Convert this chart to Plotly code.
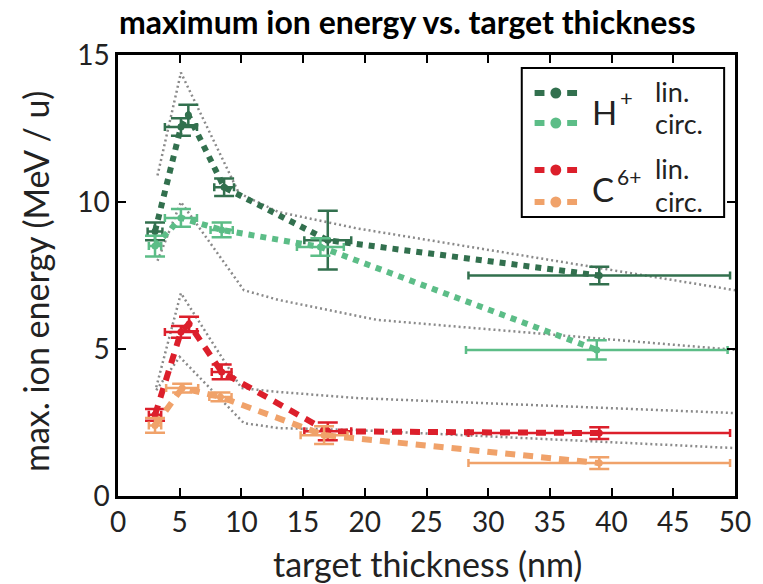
import plotly.graph_objects as go

# ---------------- data ----------------
thick_H_lin = [3.0, 5.1, 5.7, 8.6, 17.0, 39.0]
E_H_lin = [9.0, 12.55, 12.96, 10.5, 8.7, 7.5]
dx_H_lin = [0.6, 1.3, 0.0, 0.8, 1.9, 10.6]
dy_H_lin = [0.3, 0.3, 0.35, 0.3, 1.0, 0.3]

thick_H_circ = [3.0, 5.1, 8.4, 16.4, 38.8]
E_H_circ = [8.5, 9.46, 9.05, 8.47, 4.97]
dx_H_circ = [0.5, 1.3, 0.9, 1.9, 10.6]
dy_H_circ = [0.35, 0.3, 0.25, 0.3, 0.33]

thick_C_lin = [3.0, 5.1, 5.76, 8.4, 17.0, 39.0]
E_C_lin = [2.76, 5.58, 5.85, 4.22, 2.2, 2.14]
dx_C_lin = [0.5, 1.3, 0.0, 0.8, 1.9, 10.6]
dy_C_lin = [0.2, 0.2, 0.25, 0.25, 0.3, 0.2]

thick_C_circ = [3.0, 5.2, 8.3, 16.7, 39.0]
E_C_circ = [2.4, 3.67, 3.37, 2.07, 1.12]
dx_C_circ = [0.5, 1.3, 0.9, 1.9, 10.6]
dy_C_circ = [0.25, 0.15, 0.15, 0.3, 0.2]

# simulation envelopes (grey dotted)
env_H_up_x = [3.2, 5.1, 9.8, 13.0, 19.4, 50.0]
env_H_up_y = [10.9, 14.4, 10.3, 9.66, 9.1, 7.0]
env_H_lo_x = [3.2, 5.1, 10.2, 13.0, 21.0, 50.0]
env_H_lo_y = [8.0, 10.0, 7.0, 6.67, 5.99, 4.97]
env_C_up_x = [3.1, 5.1, 10.0, 13.0, 19.4, 50.0]
env_C_up_y = [3.7, 6.9, 3.67, 3.54, 3.33, 2.82]
env_C_lo_x = [3.1, 5.0, 10.2, 13.0, 19.4, 50.0]
env_C_lo_y = [3.6, 4.73, 2.48, 2.31, 2.24, 1.63]

x_ticks = [0, 5, 10, 15, 20, 25, 30, 35, 40, 45, 50]
y_ticks = [0, 5, 10, 15]

# ---------------- style ----------------
C_HLIN = "#32704e"
C_HCIRC = "#5cbd87"
C_CLIN = "#dc1f2b"
C_CCIRC = "#f0a26a"
C_ENV = "#8a8a8a"
FONT = "Lato"

W, H = 763, 584
L, R, T, B = 118, 20, 55, 88
PW, PH = W - L - R, H - T - B


def px(x):
    return (x - L) / PW


def py(y):
    return (H - B - y) / PH


fig = go.Figure()

for ex, ey in [(env_H_up_x, env_H_up_y), (env_H_lo_x, env_H_lo_y),
               (env_C_up_x, env_C_up_y), (env_C_lo_x, env_C_lo_y)]:
    fig.add_trace(go.Scatter(x=ex, y=ey, mode="lines", showlegend=False,
                             line=dict(color=C_ENV, width=2.5, dash="2px,3px"),
                             hoverinfo="skip"))

series = [
    (thick_H_lin, E_H_lin, dx_H_lin, dy_H_lin, C_HLIN, "dot", 6),
    (thick_H_circ, E_H_circ, dx_H_circ, dy_H_circ, C_HCIRC, "dot", 6),
    (thick_C_lin, E_C_lin, dx_C_lin, dy_C_lin, C_CLIN, "10px,8px", 6),
    (thick_C_circ, E_C_circ, dx_C_circ, dy_C_circ, C_CCIRC, "10px,8px", 6),
]
for xs, ys, dxs, dys, col, dash, lw in series:
    fig.add_trace(go.Scatter(
        x=xs, y=ys, mode="lines+markers", showlegend=False,
        line=dict(color=col, width=lw, dash=dash),
        marker=dict(color=col, size=7, symbol="circle"),
        error_x=dict(type="data", array=dxs, color=col, thickness=2.5, width=4),
        error_y=dict(type="data", array=dys, color=col, thickness=2.5, width=10),
    ))

axis_common = dict(showline=True, linecolor="black", linewidth=2.5, mirror="ticks",
                   ticks="inside", ticklen=8, tickwidth=2, tickcolor="black",
                   showgrid=False, zeroline=False,
                   tickfont=dict(family=FONT, size=28, color="#222"))
fig.update_xaxes(range=[0, 50], tickvals=x_ticks, **axis_common)
fig.update_yaxes(range=[0, 15], tickvals=y_ticks, **axis_common)

shapes = []
annotations = []
# legend box
shapes.append(dict(type="rect", xref="paper", yref="paper",
                   x0=px(527), x1=px(732), y0=py(217), y1=py(68),
                   line=dict(color="black", width=2), fillcolor="white", layer="above"))
leg_rows = [(93, C_HLIN), (123, C_HCIRC), (170, C_CLIN), (202, C_CCIRC)]
for yy, col in leg_rows:
    shapes.append(dict(type="line", xref="paper", yref="paper",
                       x0=px(540), x1=px(550), y0=py(yy), y1=py(yy),
                       line=dict(color=col, width=6), layer="above"))
    shapes.append(dict(type="line", xref="paper", yref="paper",
                       x0=px(573), x1=px(583), y0=py(yy), y1=py(yy),
                       line=dict(color=col, width=6), layer="above"))
    shapes.append(dict(type="circle", xref="paper", yref="paper",
                       x0=px(556), x1=px(567), y0=py(yy + 5.5), y1=py(yy - 5.5),
                       line=dict(color=col, width=0), fillcolor=col, layer="above"))

legend_texts = [("H", 596, 112, 33), ("+", 624, 97, 22),
                ("C", 596, 189, 33), ("6+", 621, 176, 21),
                ("lin.", 660, 91, 27), ("circ.", 660, 124, 27),
                ("lin.", 660, 168, 27), ("circ.", 660, 201, 27)]
for txt, x0, y0, sz in legend_texts:
    annotations.append(dict(text=txt, xref="paper", yref="paper", x=px(x0), y=py(y0),
                            xanchor="left", yanchor="middle", showarrow=False,
                            font=dict(family=FONT, size=sz, color="#222")))

# axis titles
annotations.append(dict(text="target thickness (nm)", xref="paper", yref="paper",
                        x=px(432), y=py(563), xanchor="center", yanchor="middle",
                        showarrow=False, font=dict(family=FONT, size=34, color="#222")))
annotations.append(dict(text="max. ion energy (MeV / u)", xref="paper", yref="paper",
                        x=px(34), y=py(282), xanchor="center", yanchor="middle",
                        textangle=-90, showarrow=False,
                        font=dict(family=FONT, size=34, color="#222")))
annotations.append(dict(text="<b>maximum ion energy vs. target thickness</b>",
                        xref="paper", yref="paper", x=px(411), y=py(22),
                        xanchor="center", yanchor="middle", showarrow=False,
                        font=dict(family=FONT, size=32, color="black")))

fig.update_layout(width=W, height=H, margin=dict(l=L, r=R, t=T, b=B),
                  plot_bgcolor="white", paper_bgcolor="white",
                  shapes=shapes, annotations=annotations, showlegend=False)

fig.write_html("out.html")
